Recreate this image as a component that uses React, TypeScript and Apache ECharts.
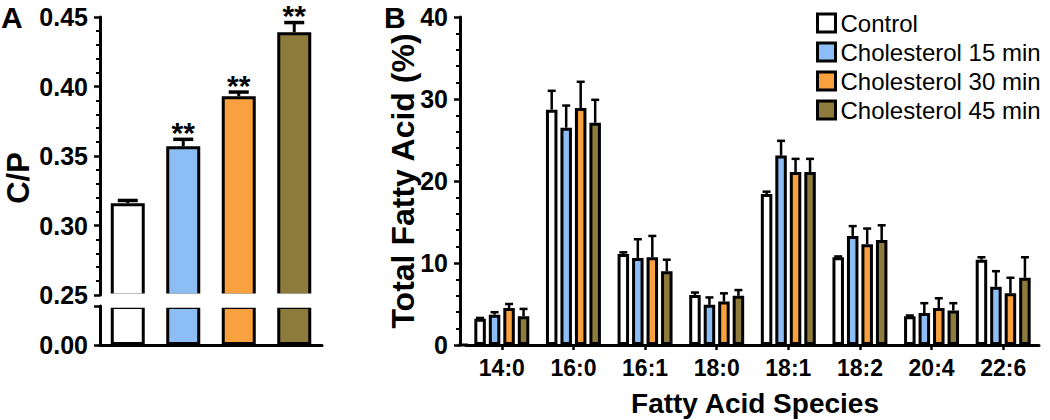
import React, { useEffect, useRef } from "react";
import * as echarts from "echarts";

// ---------- Panel A data ----------
const groups = ["Control", "Cholesterol 15 min", "Cholesterol 30 min", "Cholesterol 45 min"];
const cpValues = [0.316, 0.357, 0.393, 0.439];
const cpErrors = [0.002, 0.005, 0.003, 0.007];
const cpSignificance = ["", "**", "**", "**"];
const cpBreakAt = 0.25;

// ---------- Panel B data ----------
const species = ["14:0", "16:0", "16:1", "18:0", "18:1", "18:2", "20:4", "22:6"];
const control = [3.2, 28.7, 11.1, 6.1, 18.4, 10.7, 3.5, 10.4];
const controlErr = [0.1, 2.3, 0.2, 0.3, 0.3, 0.1, 0.1, 0.3];
const chol15 = [3.7, 26.5, 10.6, 4.9, 23.1, 13.3, 3.9, 7.1];
const chol15Err = [0.3, 2.7, 2.3, 0.9, 1.8, 1.2, 1.2, 1.9];
const chol30 = [4.5, 28.9, 10.7, 5.3, 21.1, 12.3, 4.5, 6.3];
const chol30Err = [0.5, 3.2, 2.6, 1.0, 1.6, 1.9, 1.2, 1.9];
const chol45 = [3.5, 27.1, 9.0, 6.0, 21.1, 12.8, 4.2, 8.2];
const chol45Err = [0.9, 2.8, 1.4, 0.7, 1.6, 1.8, 0.9, 2.5];

const seriesB = [control, chol15, chol30, chol45];
const errorsB = [controlErr, chol15Err, chol30Err, chol45Err];

const colors = ["#ffffff", "#8dbdf5", "#f9a13f", "#8c7b3b"];
const FONT = '"Liberation Sans", Arial, sans-serif';

const BW_B = 11.5;
const GAP_B = 0.26;

export default function App() {
  const ref = useRef<HTMLDivElement>(null);

  useEffect(() => {
    if (!ref.current) return;
    const chart = echarts.init(ref.current, null, { renderer: "svg" });

    const axisLine = { show: true, lineStyle: { color: "#000", width: 3 } };
    const yTick = { show: true, inside: false, length: 6, lineStyle: { color: "#000", width: 2.5 } };
    const minorTick = { show: true, splitNumber: 5, length: 4, lineStyle: { color: "#000", width: 2 } };
    const labelStyle = { color: "#000", fontFamily: FONT, fontWeight: "bold" as const, fontSize: 25 };

    const barItems = (vals: number[]) =>
      vals.map((v, i) => ({ value: v, itemStyle: { color: colors[i] } }));

    const option: any = {
      animation: false,
      backgroundColor: "#fff",
      textStyle: { fontFamily: FONT },
      grid: [
        { left: 100, width: 222, top: 17, height: 278 },
        { left: 100, width: 222, top: 306, height: 39 },
        { left: 466, width: 573, top: 17, height: 328 },
      ],
      xAxis: [
        { type: "category", gridIndex: 0, data: groups, show: false },
        {
          type: "category",
          gridIndex: 1,
          data: groups,
          axisLine,
          axisTick: { show: false },
          axisLabel: { show: false },
        },
        {
          type: "category",
          gridIndex: 2,
          data: species,
          axisLine,
          axisTick: { show: true, alignWithLabel: true, length: 5, lineStyle: { color: "#000", width: 2.5 } },
          axisLabel: { ...labelStyle, fontSize: 23, margin: 11 },
        },
      ],
      yAxis: [
        {
          type: "value",
          gridIndex: 0,
          min: cpBreakAt,
          max: 0.45,
          interval: 0.05,
          axisLine,
          axisTick: yTick,
          minorTick,
          splitLine: { show: false },
          axisLabel: { ...labelStyle, margin: 12, formatter: (v: number) => v.toFixed(2) },
        },
        {
          type: "value",
          gridIndex: 1,
          min: 0,
          max: cpBreakAt,
          interval: cpBreakAt,
          axisLine,
          axisTick: yTick,
          splitLine: { show: false },
          axisLabel: {
            ...labelStyle,
            margin: 12,
            formatter: (v: number) => (v === 0 ? v.toFixed(2) : ""),
          },
        },
        {
          type: "value",
          gridIndex: 2,
          min: 0,
          max: 40,
          interval: 10,
          offset: 6,
          axisLine,
          axisTick: yTick,
          minorTick,
          splitLine: { show: false },
          axisLabel: { ...labelStyle, margin: 12 },
        },
      ],
      legend: {
        data: groups,
        orient: "vertical",
        left: 811,
        top: 6,
        itemWidth: 18,
        itemHeight: 18,
        itemGap: 5,
        icon: "rect",
        itemStyle: { borderColor: "#000", borderWidth: 3 },
        textStyle: { color: "#000", fontFamily: FONT, fontSize: 24, lineHeight: 22 },
      },
      graphic: [
        {
          type: "rect",
          z: 100,
          shape: { x: 102, y: 293.5, width: 225, height: 14.3 },
          style: { fill: "#fff" },
        },
        {
          type: "line",
          z: 100,
          shape: { x1: 458.5, y1: 345, x2: 468, y2: 345 },
          style: { stroke: "#000", lineWidth: 3 },
        },
        {
          type: "text",
          z: 100,
          x: 1,
          y: 2,
          style: { text: "A", font: `bold 30px ${FONT}`, fill: "#000" },
        },
        {
          type: "text",
          z: 100,
          x: 384,
          y: 2,
          style: { text: "B", font: `bold 30px ${FONT}`, fill: "#000" },
        },
        {
          type: "text",
          z: 100,
          x: 18,
          y: 178,
          rotation: Math.PI / 2,
          style: {
            text: "C/P",
            font: `bold 31px ${FONT}`,
            fill: "#000",
            align: "center",
            verticalAlign: "middle",
            textAlign: "center",
            textVerticalAlign: "middle",
          },
        },
        {
          type: "text",
          z: 100,
          x: 403,
          y: 181,
          rotation: Math.PI / 2,
          style: {
            text: "Total Fatty Acid (%)",
            font: `bold 32px ${FONT}`,
            fill: "#000",
            align: "center",
            verticalAlign: "middle",
            textAlign: "center",
            textVerticalAlign: "middle",
          },
        },
        {
          type: "text",
          z: 100,
          x: 755,
          y: 403,
          style: {
            text: "Fatty Acid Species",
            font: `bold 28px ${FONT}`,
            fill: "#000",
            align: "center",
            verticalAlign: "middle",
            textAlign: "center",
            textVerticalAlign: "middle",
          },
        },
      ],
      series: [
        {
          name: "C/P upper",
          type: "bar",
          xAxisIndex: 0,
          yAxisIndex: 0,
          barWidth: 34,
          data: barItems(cpValues),
          itemStyle: { borderColor: "#000", borderWidth: 3 },
        },
        {
          name: "C/P lower",
          type: "bar",
          xAxisIndex: 1,
          yAxisIndex: 1,
          barWidth: 34,
          data: barItems(cpValues.map((v) => Math.min(v, cpBreakAt))),
          itemStyle: { borderColor: "#000", borderWidth: 3 },
        },
        {
          name: "C/P error",
          type: "custom",
          xAxisIndex: 0,
          yAxisIndex: 0,
          z: 5,
          data: cpValues.map((v, i) => [i, v, v + cpErrors[i]]),
          renderItem: (params: any, api: any) => {
            const i = api.value(0);
            const p0 = api.coord([i, api.value(1)]);
            const p1 = api.coord([i, api.value(2)]);
            const cx = p0[0];
            return {
              type: "group",
              children: [
                {
                  type: "line",
                  shape: { x1: cx, y1: p0[1], x2: cx, y2: p1[1] },
                  style: { stroke: "#000", lineWidth: 3 },
                },
                {
                  type: "line",
                  shape: { x1: cx - 10, y1: p1[1], x2: cx + 10, y2: p1[1] },
                  style: { stroke: "#000", lineWidth: 3.5 },
                },
                {
                  type: "text",
                  x: cx,
                  y: p1[1] - 7,
                  style: {
                    text: cpSignificance[params.dataIndex],
                    font: `bold 30px ${FONT}`,
                    lineHeight: 18,
                    fill: "#000",
                    align: "center",
                    verticalAlign: "middle",
                    textAlign: "center",
                    textVerticalAlign: "middle",
                  },
                },
              ],
            };
          },
        },
        ...seriesB.map((vals, k) => ({
          name: groups[k],
          type: "bar",
          xAxisIndex: 2,
          yAxisIndex: 2,
          barWidth: BW_B,
          barGap: `${GAP_B * 100}%`,
          data: vals,
          itemStyle: { color: colors[k], borderColor: "#000", borderWidth: 3 },
        })),
        ...seriesB.map((vals, k) => ({
          name: groups[k] + " error",
          type: "custom",
          xAxisIndex: 2,
          yAxisIndex: 2,
          z: 5,
          data: vals.map((v, i) => [i, v, v + errorsB[k][i]]),
          renderItem: (params: any, api: any) => {
            const i = api.value(0);
            const p0 = api.coord([i, api.value(1)]);
            const p1 = api.coord([i, api.value(2)]);
            const cx = p0[0] + (k - 1.5) * BW_B * (1 + GAP_B);
            return {
              type: "group",
              children: [
                {
                  type: "line",
                  shape: { x1: cx, y1: p0[1], x2: cx, y2: p1[1] },
                  style: { stroke: "#000", lineWidth: 2.5 },
                },
                {
                  type: "line",
                  shape: { x1: cx - 4, y1: p1[1], x2: cx + 4, y2: p1[1] },
                  style: { stroke: "#000", lineWidth: 2.5 },
                },
              ],
            };
          },
        })),
      ],
    };

    chart.setOption(option);
    return () => chart.dispose();
  }, []);

  return (
    <div
      ref={ref}
      style={{ position: "fixed", left: 0, top: 0, width: 1050, height: 420, background: "#fff" }}
    />
  );
}
